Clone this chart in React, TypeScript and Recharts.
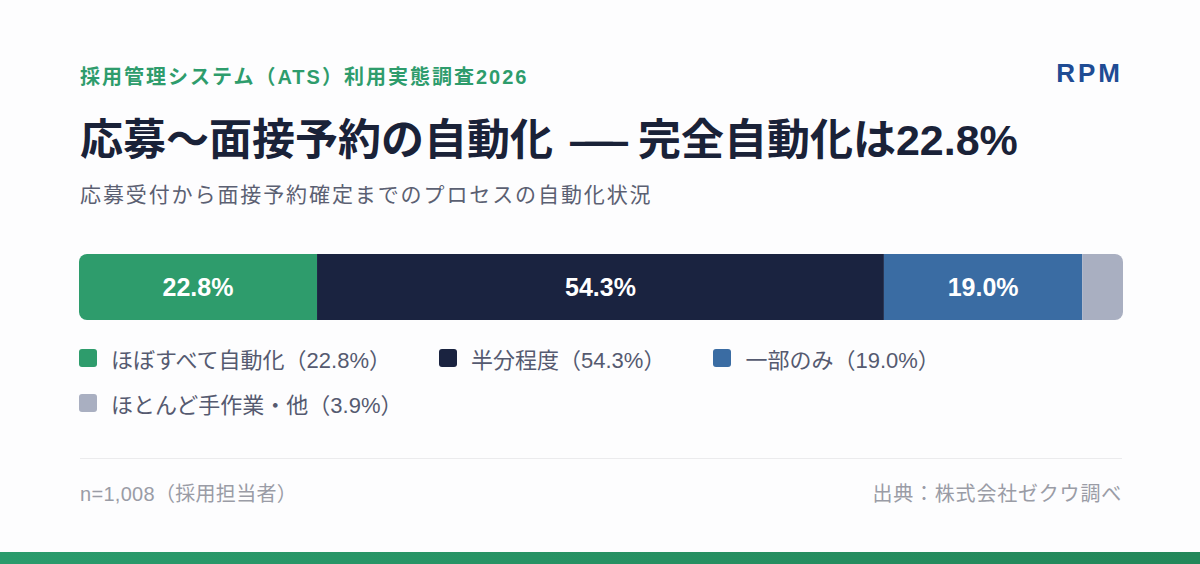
import { Bar, BarChart, LabelList, XAxis, YAxis } from "recharts";

const categories = ["ほぼすべて自動化", "半分程度", "一部のみ", "ほとんど手作業・他"];
const shares = [22.8, 54.3, 19.0, 3.9];
const colors = ["#2e9c6c", "#1a2340", "#3a6ca3", "#a9afc1"];
const showLabel = [true, true, true, false];

const row: Record<string, string | number> = { name: "自動化" };
categories.forEach((c, i) => {
  row[`s${i}`] = shares[i];
});
const data = [row];

const FONT = '"Liberation Sans", "Noto Sans CJK JP", sans-serif';

const radiusFor = (i: number): [number, number, number, number] => {
  if (i === 0) return [8, 0, 0, 8];
  if (i === categories.length - 1) return [0, 8, 8, 0];
  return [0, 0, 0, 0];
};

export default function App() {
  return (
    <div
      style={{
        position: "absolute",
        top: 0,
        left: 0,
        width: 1200,
        height: 564,
        background: "#fdfdfe",
        fontFamily: FONT,
        overflow: "hidden",
      }}
    >
      <div style={{ position: "absolute", left: 80, top: 61, fontSize: 20, fontWeight: 700, color: "#2e9c6c", letterSpacing: 2, whiteSpace: "nowrap" }}>
        採用管理システム（ATS）利用実態調査2026
      </div>
      <div style={{ position: "absolute", right: 77, top: 58, fontSize: 26, fontWeight: 700, color: "#1f4c94", letterSpacing: 3 }}>
        RPM
      </div>
      <div style={{ position: "absolute", left: 80, top: 105, fontSize: 43, fontWeight: 700, color: "#1a2238", whiteSpace: "nowrap" }}>
        応募〜面接予約の自動化 <span style={{ marginLeft: 5, letterSpacing: -28 }}>—</span>
        <span style={{ marginRight: -2 }}>—</span> 完全自動化は22.8%
      </div>
      <div style={{ position: "absolute", left: 80, top: 178, fontSize: 21, color: "#5b6072", letterSpacing: 1.9, whiteSpace: "nowrap" }}>
        応募受付から面接予約確定までのプロセスの自動化状況
      </div>

      <div style={{ position: "absolute", left: 79, top: 254 }}>
        <BarChart
          width={1044}
          height={66}
          data={data}
          layout="vertical"
          margin={{ top: 0, right: 0, bottom: 0, left: 0 }}
          barCategoryGap={0}
        >
          <XAxis type="number" domain={[0, 100]} hide />
          <YAxis type="category" dataKey="name" hide />
          {categories.map((c, i) => (
            <Bar
              key={c}
              dataKey={`s${i}`}
              name={c}
              stackId="a"
              fill={colors[i]}
              radius={radiusFor(i)}
              isAnimationActive={false}
            >
              {showLabel[i] && (
                <LabelList
                  dataKey={`s${i}`}
                  position="center"
                  formatter={(v: any) => `${Number(v).toFixed(1)}%`}
                  fill="#ffffff"
                  fontSize={25}
                  fontWeight={700}
                  fontFamily={FONT}
                />
              )}
            </Bar>
          ))}
        </BarChart>
      </div>

      <div
        style={{
          position: "absolute",
          left: 79,
          top: 342,
          width: 1044,
          display: "flex",
          flexWrap: "wrap",
          rowGap: 13,
          columnGap: 48,
          fontSize: 22,
          color: "#555a70",
        }}
      >
        {categories.map((c, i) => (
          <div key={c} style={{ display: "flex", alignItems: "center", height: 32 }}>
            <span style={{ width: 18, height: 18, borderRadius: 3, background: colors[i], marginRight: 14, display: "inline-block" }} />
            {c}（{shares[i].toFixed(1)}%）
          </div>
        ))}
      </div>

      <div style={{ position: "absolute", left: 80, top: 458, width: 1042, height: 1, background: "#ebebed" }} />
      <div style={{ position: "absolute", left: 80, top: 478, fontSize: 20, color: "#9a9ca6", letterSpacing: 0.3, whiteSpace: "nowrap" }}>n=1,008（採用担当者）</div>
      <div style={{ position: "absolute", right: 78, top: 478, fontSize: 20, color: "#9a9ca6", letterSpacing: 0.8, whiteSpace: "nowrap" }}>出典：株式会社ゼクウ調べ</div>

      <div
        style={{
          position: "absolute",
          left: 0,
          bottom: 0,
          width: 1200,
          height: 12,
          background: "linear-gradient(90deg, #2a9b6c, #23875a)",
        }}
      />
    </div>
  );
}
